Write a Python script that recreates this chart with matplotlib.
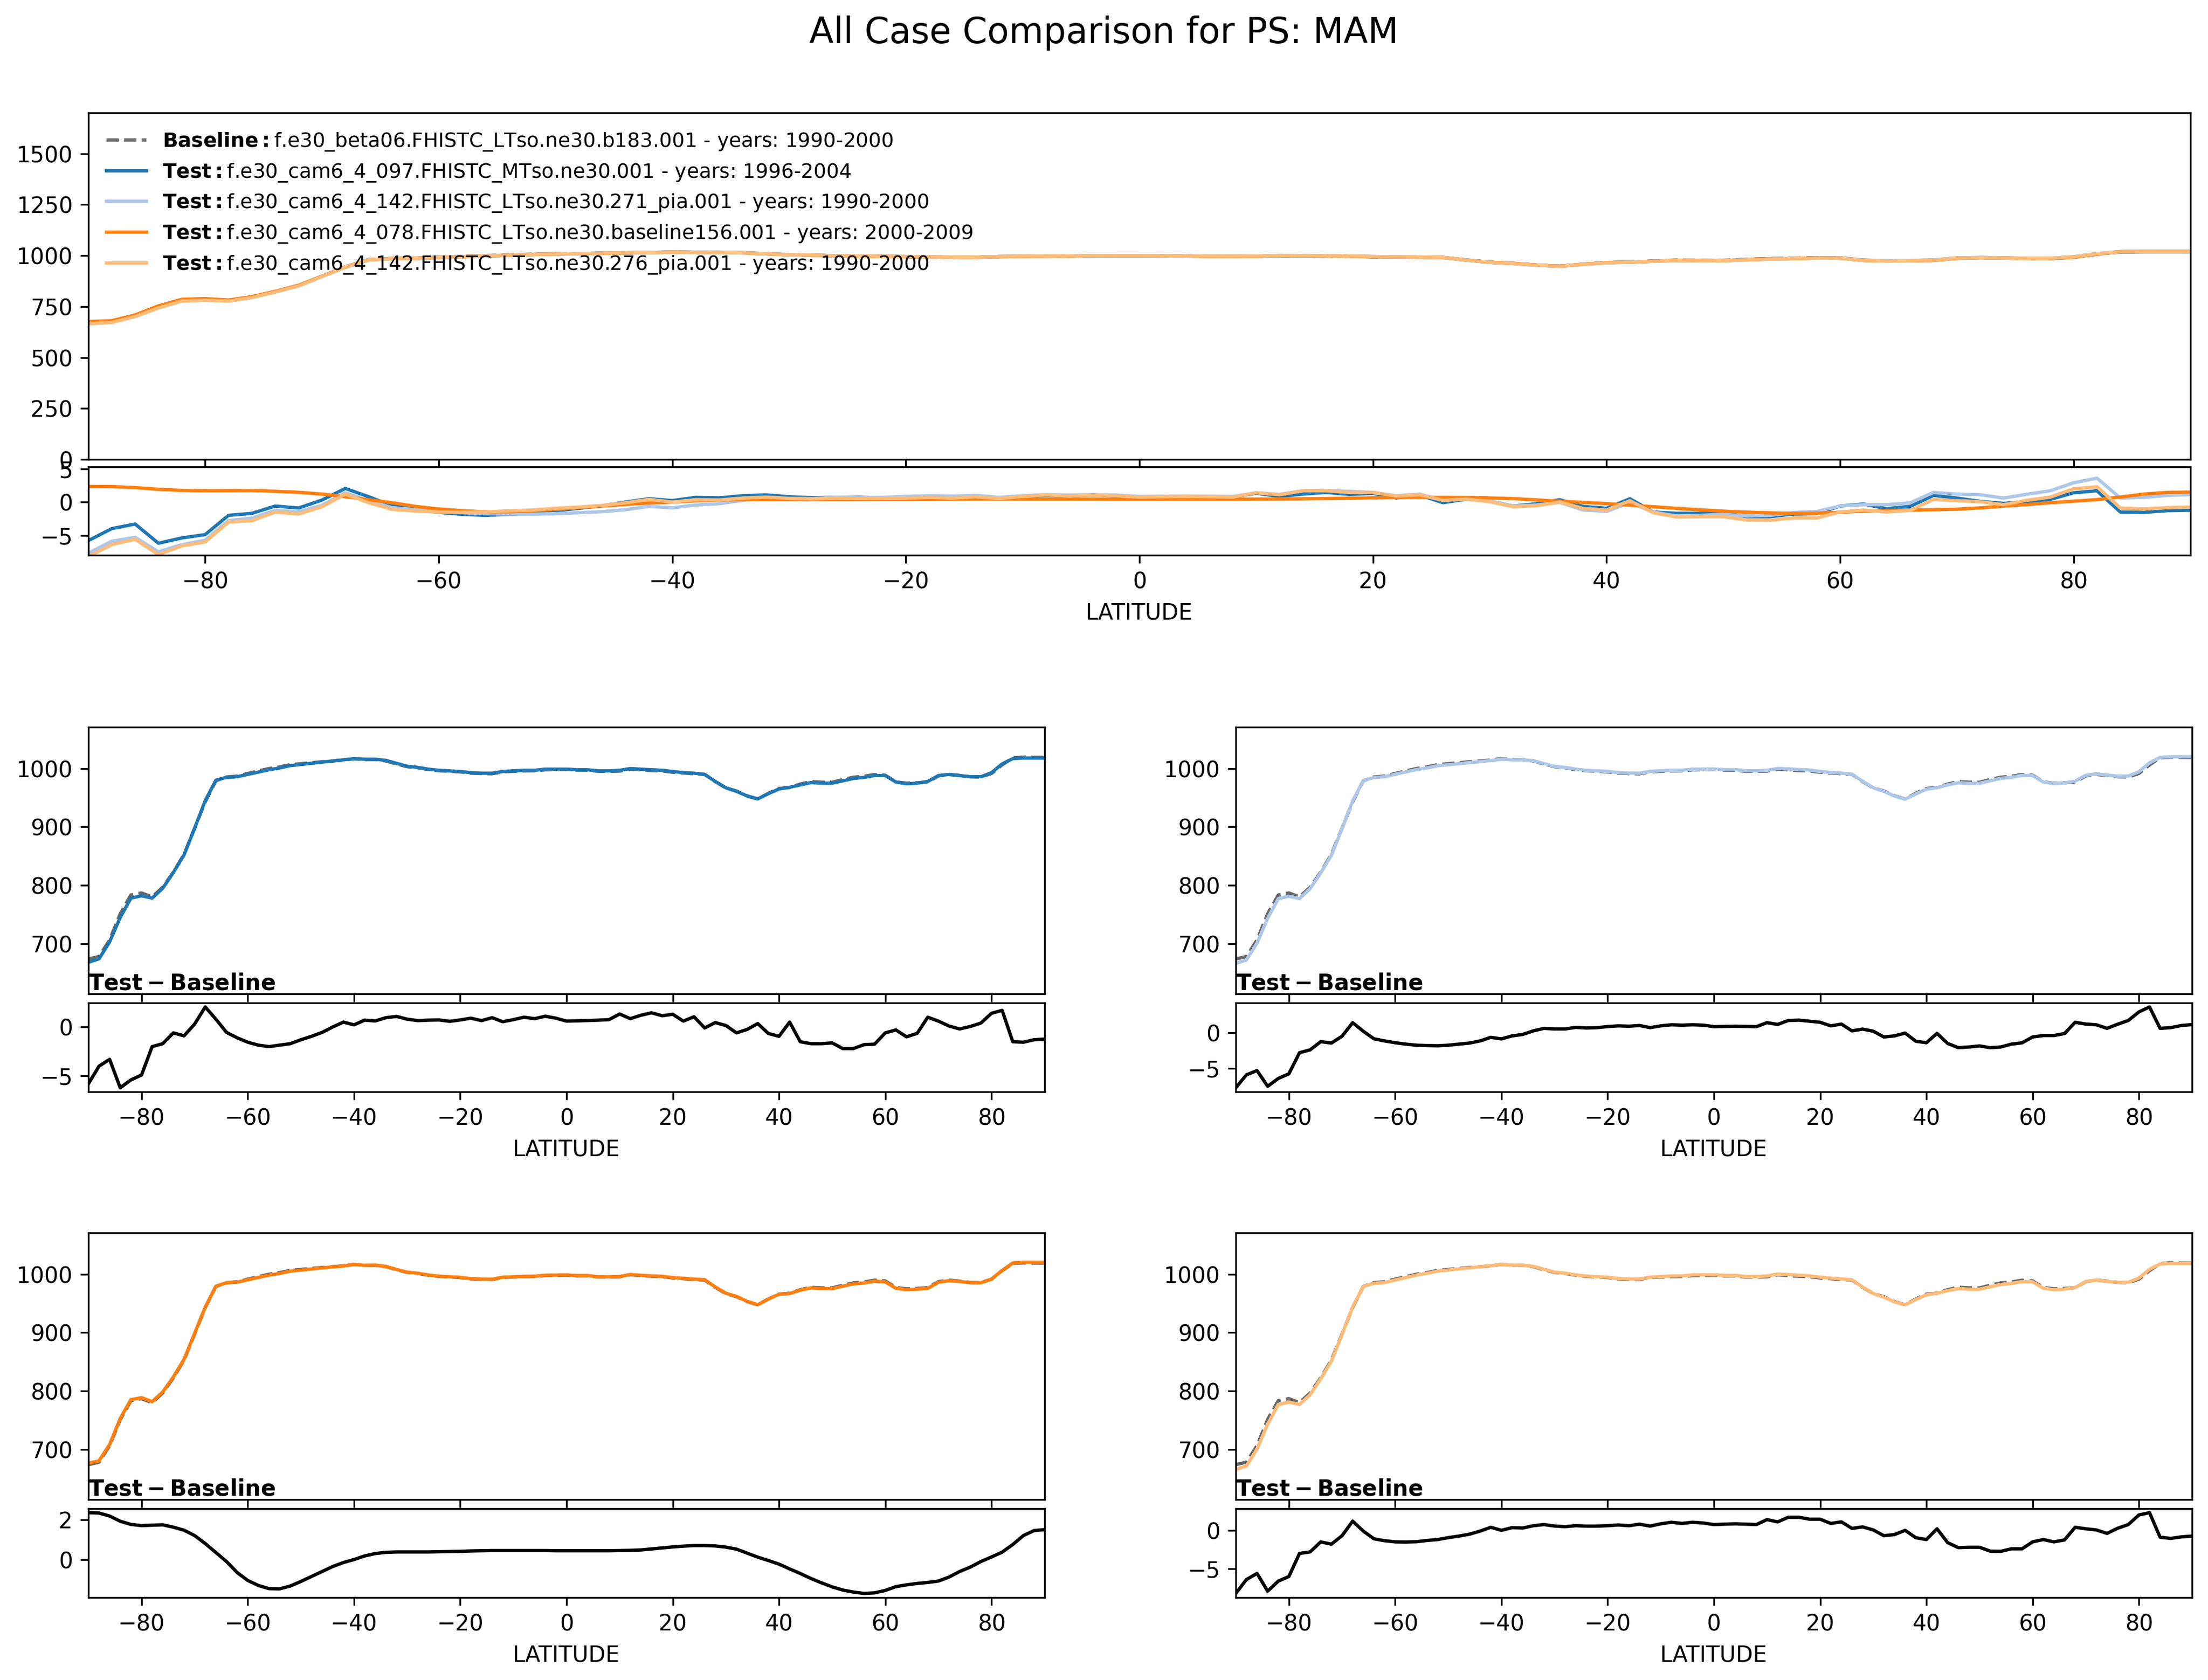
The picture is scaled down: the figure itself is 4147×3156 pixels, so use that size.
import numpy as np
import matplotlib
matplotlib.use("Agg")
import matplotlib.pyplot as plt


# zonal mean surface pressure (hPa), MAM
lat = [-90, -88, -86, -84, -82, -80, -78, -76, -74, -72, -70, -68, -66, -64, -62, -60,
       -58, -56, -54, -52, -50, -48, -46, -44, -42, -40, -38, -36, -34, -32, -30, -28,
       -26, -24, -22, -20, -18, -16, -14, -12, -10, -8, -6, -4, -2, 0, 2, 4, 6, 8, 10,
       12, 14, 16, 18, 20, 22, 24, 26, 28, 30, 32, 34, 36, 38, 40, 42, 44, 46, 48, 50,
       52, 54, 56, 58, 60, 62, 64, 66, 68, 70, 72, 74, 76, 78, 80, 82, 84, 86, 88, 90]

base_ps = [673.8, 678.0, 706.3, 751.2, 783.4, 786.9, 780.0, 796.7, 822.6, 852.9, 897.7,
           943.0, 979.2, 985.6, 987.1, 991.6, 995.9, 1000.0, 1002.9, 1006.7, 1008.3, 1010.0,
           1011.6, 1013.0, 1014.5, 1016.8, 1015.3, 1015.4, 1013.1, 1007.9, 1003.2, 1001.4,
           998.3, 996.3, 995.4, 994.3, 992.1, 991.4, 991.1, 994.5, 995.3, 996.0, 996.2,
           997.9, 998.1, 998.4, 997.4, 997.3, 995.3, 995.3, 995.7, 999.2, 997.8, 996.6,
           995.9, 993.7, 992.4, 991.0, 990.1, 977.6, 966.9, 961.6, 953.3, 947.7, 957.7,
           966.0, 967.5, 973.5, 977.7, 976.7, 976.6, 981.2, 985.2, 986.8, 989.8, 988.6,
           977.3, 975.0, 975.7, 977.0, 987.4, 989.9, 988.2, 986.0, 985.6, 991.6, 1006.3,
           1018.5, 1019.6, 1019.3, 1019.2]

# test minus baseline for each test case
diff_097 = [-5.8, -4.0, -3.3, -6.2, -5.4, -4.9, -2.0, -1.7, -0.6, -0.9, 0.3, 2.05, 0.8,
            -0.55, -1.1, -1.55, -1.85, -2.0, -1.85, -1.7, -1.3, -0.95, -0.55, 0.0, 0.5,
            0.22, 0.7, 0.62, 0.95, 1.08, 0.8, 0.65, 0.7, 0.72, 0.58, 0.72, 0.9, 0.65, 0.95,
            0.54, 0.75, 1.0, 0.85, 1.1, 0.9, 0.6, 0.63, 0.66, 0.7, 0.75, 1.33, 0.85, 1.2,
            1.45, 1.15, 1.3, 0.6, 1.05, -0.1, 0.45, 0.15, -0.6, -0.25, 0.35, -0.66, -0.95,
            0.5, -1.5, -1.7, -1.7, -1.62, -2.2, -2.2, -1.8, -1.75, -0.6, -0.3, -1.0, -0.65,
            1.0, 0.6, 0.1, -0.2, 0.05, 0.4, 1.4, 1.7, -1.5, -1.55, -1.3, -1.23]

diff_142_271 = [-7.7, -5.9, -5.3, -7.5, -6.4, -5.75, -2.8, -2.4, -1.25, -1.45, -0.5, 1.4,
                0.2, -0.85, -1.15, -1.4, -1.6, -1.75, -1.8, -1.83, -1.75, -1.6, -1.45,
                -1.15, -0.65, -0.87, -0.45, -0.25, 0.25, 0.6, 0.52, 0.52, 0.74, 0.65, 0.7,
                0.85, 0.95, 0.9, 1.0, 0.7, 0.95, 1.1, 1.05, 1.1, 1.05, 0.84, 0.87, 0.9, 0.87,
                0.84, 1.4, 1.15, 1.7, 1.75, 1.6, 1.45, 0.95, 1.2, 0.25, 0.5, 0.2, -0.6,
                -0.45, -0.05, -1.2, -1.4, -0.1, -1.5, -2.1, -2.0, -1.85, -2.1, -2.0, -1.6,
                -1.42, -0.6, -0.4, -0.4, -0.12, 1.45, 1.2, 1.1, 0.6, 1.18, 1.7, 2.9, 3.6,
                0.6, 0.7, 1.0, 1.13]

diff_078 = [2.35, 2.33, 2.18, 1.92, 1.76, 1.7, 1.72, 1.74, 1.62, 1.47, 1.2, 0.8, 0.35,
            -0.1, -0.65, -1.05, -1.3, -1.46, -1.47, -1.33, -1.1, -0.85, -0.6, -0.35, -0.15,
            0.0, 0.18, 0.3, 0.36, 0.38, 0.38, 0.38, 0.38, 0.39, 0.4, 0.41, 0.43, 0.44,
            0.45, 0.45, 0.45, 0.45, 0.45, 0.45, 0.44, 0.44, 0.44, 0.44, 0.44, 0.44, 0.45,
            0.46, 0.48, 0.53, 0.58, 0.63, 0.67, 0.7, 0.7, 0.68, 0.62, 0.52, 0.32, 0.12,
            -0.05, -0.23, -0.47, -0.7, -0.95, -1.17, -1.37, -1.53, -1.63, -1.7, -1.67,
            -1.55, -1.36, -1.27, -1.2, -1.15, -1.08, -0.88, -0.6, -0.38, -0.1, 0.13, 0.37,
            0.75, 1.2, 1.45, 1.5]

diff_142_276 = [-8.2, -6.4, -5.6, -7.9, -6.6, -6.0, -3.0, -2.8, -1.5, -1.8, -0.7, 1.2,
                -0.1, -1.1, -1.35, -1.5, -1.52, -1.48, -1.32, -1.2, -0.95, -0.75, -0.5,
                -0.1, 0.4, 0.0, 0.35, 0.3, 0.6, 0.75, 0.56, 0.48, 0.6, 0.55, 0.55, 0.6, 0.7,
                0.6, 0.8, 0.55, 0.85, 1.05, 0.9, 1.05, 0.95, 0.75, 0.8, 0.85, 0.8, 0.75, 1.4,
                1.1, 1.7, 1.7, 1.45, 1.45, 0.9, 1.1, 0.25, 0.45, 0.05, -0.7, -0.55, 0.0,
                -0.96, -1.2, 0.2, -1.6, -2.25, -2.2, -2.2, -2.7, -2.73, -2.4, -2.4, -1.5,
                -1.2, -1.5, -1.25, 0.4, 0.2, 0.05, -0.4, 0.27, 0.75, 2.0, 2.3, -0.9, -1.05,
                -0.85, -0.75]

base_name = "f.e30_beta06.FHISTC_LTso.ne30.b183.001"
base_years = "1990-2000"
test_names = ["f.e30_cam6_4_097.FHISTC_MTso.ne30.001",
              "f.e30_cam6_4_142.FHISTC_LTso.ne30.271_pia.001",
              "f.e30_cam6_4_078.FHISTC_LTso.ne30.baseline156.001",
              "f.e30_cam6_4_142.FHISTC_LTso.ne30.276_pia.001"]
test_years = ["1996-2004", "1990-2000", "2000-2009", "1990-2000"]
test_diffs = [diff_097, diff_142_271, diff_078, diff_142_276]
colors = ["#1f77b4", "#aec7e8", "#ff7f0e", "#ffbb78"]

lat = np.array(lat)
base_ps = np.array(base_ps)
test_ps = [base_ps + np.array(d) for d in test_diffs]

W, H = 4147, 3156
fig = plt.figure(figsize=(W / 300, H / 300), dpi=300)


def px_axes(x0, y0, x1, y1):
    # axes from pixel box (top-left origin)
    return fig.add_axes([x0 / W, 1 - y1 / H, (x1 - x0) / W, (y1 - y0) / H])


fig.text(0.5, 1 - 81 / H, "All Case Comparison for PS: MAM", fontsize=16,
         ha="center", va="baseline")

# --- top: all cases together
ax_all = px_axes(166, 212, 4114, 863)
ax_all_d = px_axes(166, 877, 4114, 1043)

ax_all.plot(lat, base_ps, "--", color="dimgray", lw=1.5,
            label=r"$\bf{Baseline}:$" + base_name + " - years: " + base_years)
for i in range(4):
    ax_all.plot(lat, test_ps[i], color=colors[i], lw=1.5,
                label=r"$\bf{Test}:$" + test_names[i] + " - years: " + test_years[i])
    ax_all_d.plot(lat, test_diffs[i], color=colors[i], lw=1.5)

ax_all.set_xlim(-90, 90)
ax_all.set_ylim(0, 1700)
ax_all.tick_params(labelbottom=False)
ax_all.legend(loc="upper left", fontsize=9, frameon=False, labelspacing=0.45)

ax_all_d.set_xlim(-90, 90)
ax_all_d.set_ylim(-8.0, 5.3)
ax_all_d.set_yticks([-5, 0, 5])
ax_all_d.set_xlabel("LATITUDE")

# --- one panel pair per test case
lefts = [166, 2321, 166, 2321]
tops = [1366, 1366, 2316, 2316]
diff_ticks = [[-5, 0], [-5, 0], [0, 2], [-5, 0]]

for i in range(4):
    x0, y0 = lefts[i], tops[i]
    ax = px_axes(x0, y0, x0 + 1796, y0 + 501)
    axd = px_axes(x0, y0 + 518, x0 + 1796, y0 + 685)

    ax.plot(lat, base_ps, "--", color="dimgray", lw=1.5)
    ax.plot(lat, test_ps[i], color=colors[i], lw=1.5)
    ax.set_xlim(-90, 90)
    ax.set_ylim(614, 1071)
    ax.set_yticks([700, 800, 900, 1000])
    ax.tick_params(labelbottom=False)

    axd.plot(lat, test_diffs[i], color="k", lw=1.5)
    axd.set_xlim(-90, 90)
    axd.set_yticks(diff_ticks[i])
    axd.set_title(r"$\bf{Test} - \bf{Baseline}$", loc="left", fontsize=10)
    axd.set_xlabel("LATITUDE")

fig.savefig("out.png", dpi=300)
